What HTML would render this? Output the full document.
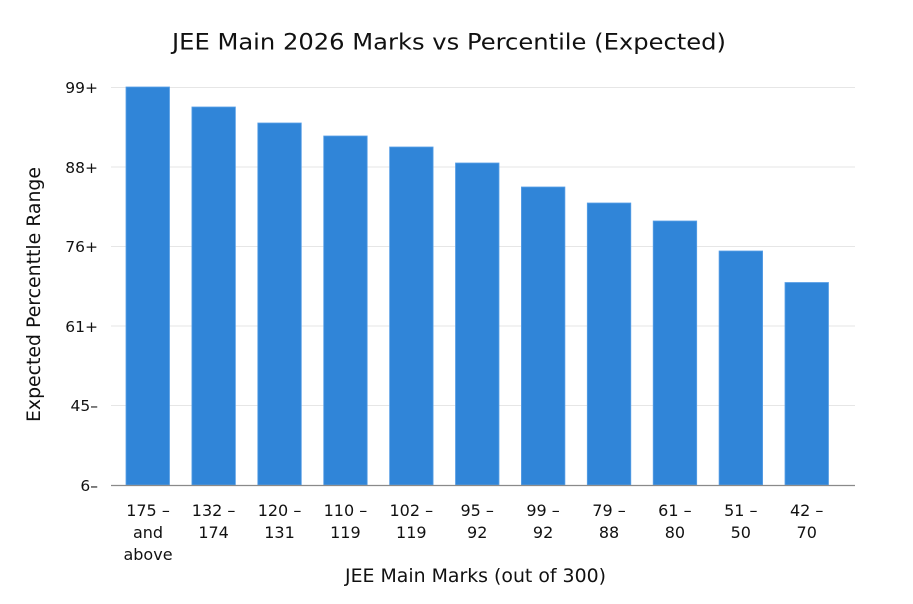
<!DOCTYPE html>
<html>
<head>
<meta charset="utf-8">
<style>
html,body{margin:0;padding:0;background:#fff;}
svg{display:block;}
text{font-family:"DejaVu Sans","Liberation Sans",sans-serif;fill:#111;}
</style>
</head>
<body>
<svg width="913" height="604" viewBox="0 0 913 604" xmlns="http://www.w3.org/2000/svg">
  <rect width="913" height="604" fill="#fff"/>
  <text x="172" y="49.5" font-size="22.5" textLength="554" lengthAdjust="spacingAndGlyphs">JEE Main 2026 Marks vs Percentile (Expected)</text>
  <!-- grid -->
  <g stroke="#e6e6e6" stroke-width="1">
    <line x1="111" y1="87.5" x2="855" y2="87.5"/>
    <line x1="111" y1="167" x2="855" y2="167"/>
    <line x1="111" y1="246.5" x2="855" y2="246.5"/>
    <line x1="111" y1="326" x2="855" y2="326"/>
    <line x1="111" y1="405.5" x2="855" y2="405.5"/>
  </g>
  <!-- y tick labels -->
  <g font-size="15.5" text-anchor="end">
    <text x="98" y="93">99+</text>
    <text x="98" y="173">88+</text>
    <text x="98" y="252">76+</text>
    <text x="98" y="332">61+</text>
    <text x="98" y="411">45–</text>
    <text x="98" y="491">6–</text>
  </g>
  <!-- bars -->
  <g fill="#3085d8" stroke="#5aa0e6" stroke-width="0.8">
    <rect x="126" y="87" width="43.5" height="398"/>
    <rect x="191.9" y="107" width="43.5" height="378"/>
    <rect x="257.8" y="123" width="43.5" height="362"/>
    <rect x="323.7" y="136" width="43.5" height="349"/>
    <rect x="389.6" y="147" width="43.5" height="338"/>
    <rect x="455.5" y="163" width="43.5" height="322"/>
    <rect x="521.4" y="187" width="43.5" height="298"/>
    <rect x="587.3" y="203" width="43.5" height="282"/>
    <rect x="653.2" y="221" width="43.5" height="264"/>
    <rect x="719.1" y="251" width="43.5" height="234"/>
    <rect x="785" y="282.5" width="43.5" height="202.5"/>
  </g>
  <line x1="111" y1="485.5" x2="855" y2="485.5" stroke="#8a8a8a" stroke-width="1.2"/>
  <!-- x tick labels -->
  <g font-size="16" text-anchor="middle">
    <text x="148" y="516">175 –</text><text x="148" y="538">and</text><text x="148" y="560">above</text>
    <text x="213.6" y="516">132 –</text><text x="213.6" y="538">174</text>
    <text x="279.5" y="516">120 –</text><text x="279.5" y="538">131</text>
    <text x="345.4" y="516">110 –</text><text x="345.4" y="538">119</text>
    <text x="411.3" y="516">102 –</text><text x="411.3" y="538">119</text>
    <text x="477.2" y="516">95 –</text><text x="477.2" y="538">92</text>
    <text x="543.1" y="516">99 –</text><text x="543.1" y="538">92</text>
    <text x="609" y="516">79 –</text><text x="609" y="538">88</text>
    <text x="674.9" y="516">61 –</text><text x="674.9" y="538">80</text>
    <text x="740.8" y="516">51 –</text><text x="740.8" y="538">50</text>
    <text x="806.7" y="516">42 –</text><text x="806.7" y="538">70</text>
  </g>
  <text x="345" y="582" font-size="19" textLength="261" lengthAdjust="spacingAndGlyphs">JEE Main Marks (out of 300)</text>
  <text x="0" y="0" font-size="19" textLength="255" lengthAdjust="spacingAndGlyphs" transform="translate(40,422) rotate(-90)">Expected Percenttle Range</text>
</svg>
</body>
</html>
